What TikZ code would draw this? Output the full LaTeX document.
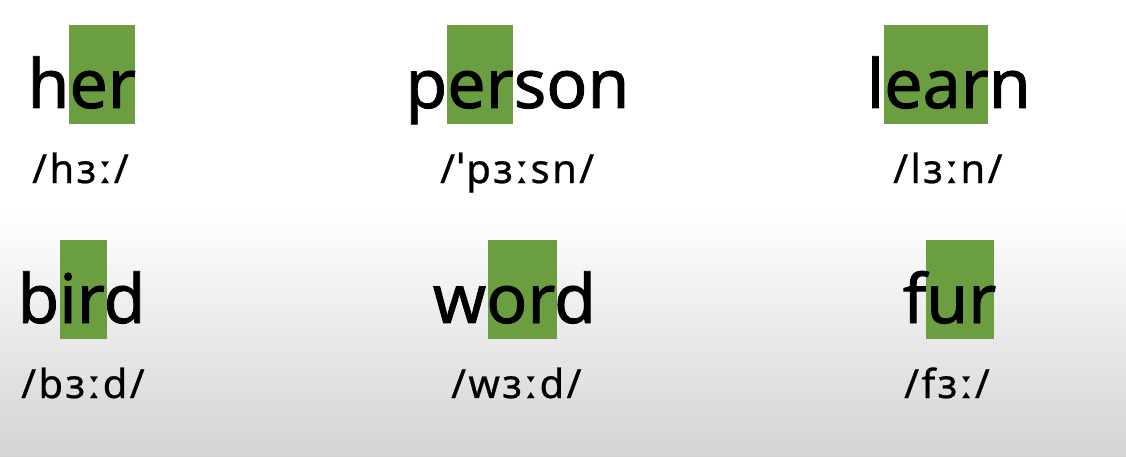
\documentclass[tikz,border=0pt]{standalone}
\usepackage{fontspec}
\setmainfont{Noto Sans}
\newfontfamily\wordfont[FakeBold=1.2]{Noto Sans}
\newfontfamily\ipafont[LetterSpace=6,FakeBold=0.6]{Noto Sans}
\definecolor{hlgreen}{RGB}{107,158,64}
\begin{document}
\begin{tikzpicture}[x=1pt,y=-1pt,
  wordtxt/.style={anchor=base west,inner sep=0pt,font=\wordfont\fontsize{68}{80}\selectfont},
  ipatxt/.style={anchor=base west,inner sep=0pt,font=\ipafont\fontsize{40}{48}\selectfont},
  hl/.style={fill=hlgreen,draw=none}]
\useasboundingbox (0,0) rectangle (1126,457);
\fill[white] (0,0) rectangle (1126,210);
\shade[top color=white,bottom color=black!17] (0,210) rectangle (1126,457);
% highlight boxes
\fill[hl] (69,25) rectangle (135,124);
\fill[hl] (447,25) rectangle (513,124);
\fill[hl] (884,25) rectangle (988,124);
\fill[hl] (60,240) rectangle (107,339);
\fill[hl] (488,240) rectangle (557,339);
\fill[hl] (926,240) rectangle (994,339);
% words
\node[wordtxt] (w1) at (27.3,108) {her};
\node[wordtxt] (w2) at (405.3,108) {person};
\node[wordtxt] (w3) at (866.5,108) {learn};
\node[wordtxt] (w4) at (17.3,323) {bird};
\node[wordtxt] (w5) at (432.6,323) {word};
\node[wordtxt] (w6) at (902.6,323) {fur};
% transcriptions
\node[ipatxt] (p1) at (32,183) {/hɜː/};
\node[ipatxt] (p2) at (440,183) {/ˈpɜːsn/};
\node[ipatxt] (p3) at (893,183) {/lɜːn/};
\node[ipatxt] (p4) at (21,398) {/bɜːd/};
\node[ipatxt] (p5) at (451,398) {/wɜːd/};
\node[ipatxt] (p6) at (904,398) {/fɜː/};
\end{tikzpicture}
\end{document}
